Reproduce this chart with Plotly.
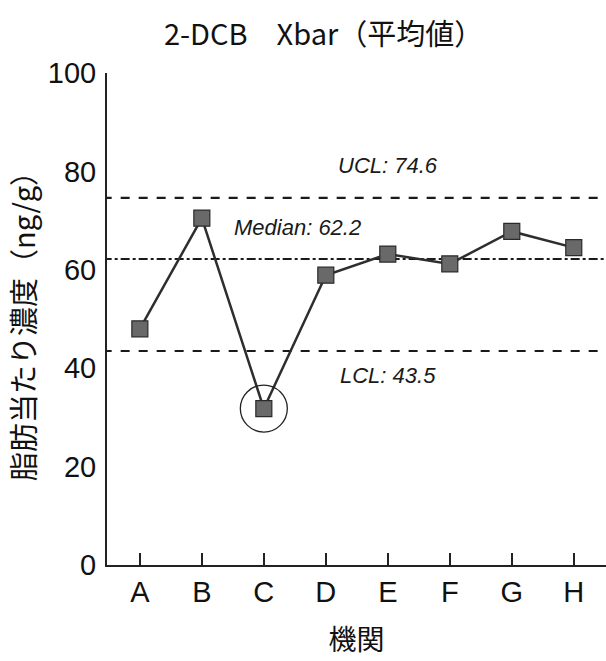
import plotly.graph_objects as go

categories = ["A", "B", "C", "D", "E", "F", "G", "H"]
values = [48.0, 70.5, 31.8, 58.9, 63.2, 61.2, 67.8, 64.5]
ucl = 74.6
median = 62.2
lcl = 43.5
y_ticks = [0, 20, 40, 60, 80, 100]
outlier_index = 2

xpos = list(range(len(categories)))

fig = go.Figure()

# control lines
for val, dash in [(ucl, "dash"), (median, "dashdot"), (lcl, "dash")]:
    fig.add_trace(go.Scatter(x=[-0.6, len(categories) + 0.6], y=[val, val], mode="lines",
                             line=dict(color="#1a1a1a", width=2.2, dash=dash),
                             hoverinfo="skip", showlegend=False))

fig.add_trace(go.Scatter(
    x=xpos, y=values, mode="lines+markers",
    line=dict(color="#2e2e2e", width=2.5),
    marker=dict(symbol="square", size=16, color="#696969", line=dict(color="#2a2a2a", width=1.2)),
    showlegend=False))

fig.add_trace(go.Scatter(
    x=[xpos[outlier_index]], y=[values[outlier_index]], mode="markers",
    marker=dict(symbol="circle-open", size=47, color="#222222", line=dict(width=1.3)),
    showlegend=False, hoverinfo="skip"))

ann_font = dict(family="Arial, Liberation Sans", size=22, color="#1a1a1a")
fig.add_annotation(x=4.0, y=ucl, text=f"<i>UCL: {ucl}</i>", showarrow=False, yshift=32, font=ann_font)
fig.add_annotation(x=2.55, y=median, text=f"<i>Median: {median}</i>", showarrow=False, yshift=31, font=ann_font)
fig.add_annotation(x=4.0, y=lcl, text=f"<i>LCL: {lcl}</i>", showarrow=False, yshift=-25, font=ann_font)

fig.update_layout(
    width=606, height=661,
    margin=dict(l=107, r=0, t=73, b=96),
    plot_bgcolor="white", paper_bgcolor="white",
    title=dict(text="2-DCB　Xbar（平均値）", x=0.534, xanchor="center", y=0.947, yanchor="middle",
               font=dict(family="Noto Sans CJK JP", size=29, color="#111111")),
    xaxis=dict(range=[-0.53, 7.52], tickvals=xpos, ticktext=categories,
               showline=True, linecolor="#222222", linewidth=2,
               ticks="inside", ticklen=12, tickwidth=2, tickcolor="#222222",
               showgrid=False, zeroline=False, ticklabelstandoff=0,
               tickfont=dict(family="Arial, Liberation Sans", size=29, color="#111111"),
               title=dict(text="機関", font=dict(family="Noto Sans CJK JP", size=28, color="#111111"), standoff=24)),
    yaxis=dict(range=[0, 100], tickvals=y_ticks, showline=True, linecolor="#222222", linewidth=2,
               ticks="", showgrid=False, zeroline=False, ticklabelstandoff=3,
               tickfont=dict(family="Arial, Liberation Sans", size=29, color="#111111"),
               title=dict(text="脂肪当たり濃度（ng/g）", font=dict(family="Noto Sans CJK JP", size=29, color="#111111"), standoff=4)),
)

fig.write_html("out.html")
